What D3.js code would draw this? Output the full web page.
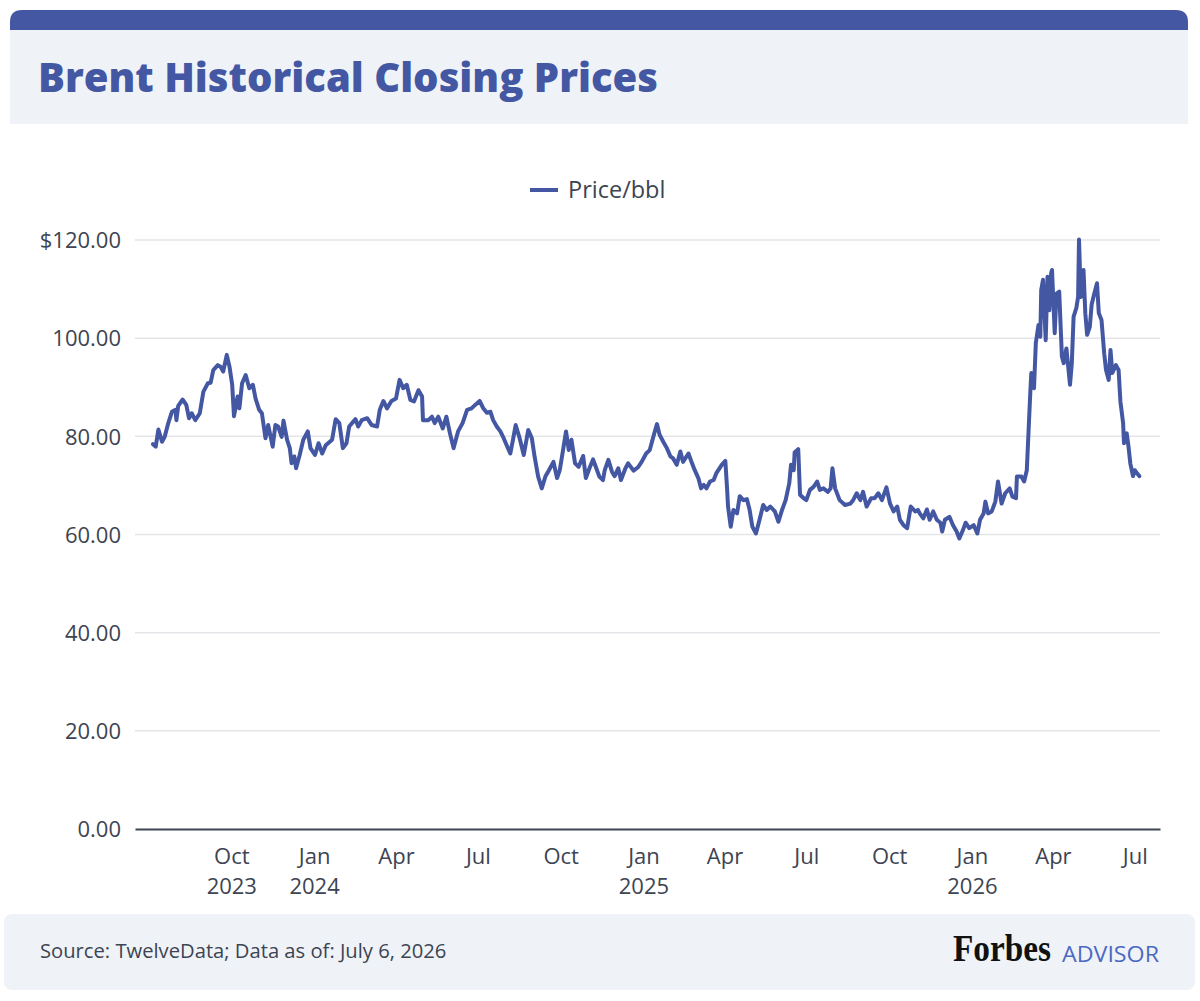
<!DOCTYPE html>
<html><head><meta charset="utf-8">
<script src="https://cdn.jsdelivr.net/npm/d3@7"></script>
<style>body{margin:0;background:#fff} svg{display:block}</style>
</head><body><svg id="c" width="1200" height="1001"></svg>
<script>
const titleText = "Brent Historical Closing Prices";
const seriesName = "Price/bbl";
const sourceText = "Source: TwelveData; Data as of: July 6, 2026";

const dates = [
"2023-07-06","2023-07-09","2023-07-12","2023-07-16","2023-07-19","2023-07-23","2023-07-27","2023-07-31","2023-08-01","2023-08-03",
"2023-08-08","2023-08-12","2023-08-15","2023-08-18","2023-08-22","2023-08-27","2023-08-31","2023-09-05","2023-09-08","2023-09-11",
"2023-09-16","2023-09-19","2023-09-22","2023-09-26","2023-09-29","2023-10-02","2023-10-04","2023-10-08","2023-10-10","2023-10-13",
"2023-10-17","2023-10-21","2023-10-25","2023-10-28","2023-11-01","2023-11-04","2023-11-08","2023-11-11","2023-11-16","2023-11-19",
"2023-11-22","2023-11-26","2023-11-28","2023-12-02","2023-12-05","2023-12-07","2023-12-10","2023-12-12","2023-12-16","2023-12-20",
"2023-12-25","2023-12-28",
"2024-01-02","2024-01-06","2024-01-10","2024-01-14","2024-01-21","2024-01-25","2024-01-29","2024-02-02","2024-02-06","2024-02-09",
"2024-02-16","2024-02-19","2024-02-23","2024-02-29","2024-03-05","2024-03-11","2024-03-14","2024-03-18","2024-03-22","2024-03-27",
"2024-04-01","2024-04-05","2024-04-09","2024-04-13","2024-04-17","2024-04-21","2024-04-26","2024-04-30","2024-05-01","2024-05-07",
"2024-05-11","2024-05-14","2024-05-18","2024-05-23","2024-05-27","2024-05-31","2024-06-04","2024-06-09","2024-06-14","2024-06-19",
"2024-06-24","2024-06-28","2024-07-03","2024-07-07","2024-07-11","2024-07-15","2024-07-18","2024-07-22","2024-07-26","2024-07-29",
"2024-08-02","2024-08-06","2024-08-09","2024-08-12","2024-08-16","2024-08-21","2024-08-26","2024-08-30","2024-09-02","2024-09-06",
"2024-09-10","2024-09-14","2024-09-18","2024-09-23","2024-09-27","2024-09-30","2024-10-04","2024-10-07","2024-10-10","2024-10-13",
"2024-10-17","2024-10-21","2024-10-26","2024-10-29","2024-11-02","2024-11-06","2024-11-09","2024-11-13","2024-11-17","2024-11-19",
"2024-11-23","2024-11-27","2024-11-30","2024-12-04","2024-12-07","2024-12-12","2024-12-15","2024-12-21","2024-12-26","2024-12-30",
"2025-01-04","2025-01-08","2025-01-12","2025-01-16","2025-01-19","2025-01-23","2025-01-27","2025-01-31","2025-02-03","2025-02-07",
"2025-02-11","2025-02-14","2025-02-20","2025-02-24","2025-02-27","2025-03-03","2025-03-06","2025-03-09","2025-03-12","2025-03-16",
"2025-03-20","2025-03-23","2025-03-29","2025-04-02","2025-04-04","2025-04-05","2025-04-08","2025-04-11","2025-04-15","2025-04-18",
"2025-04-22","2025-04-26","2025-04-29","2025-05-02","2025-05-06","2025-05-10","2025-05-14","2025-05-18","2025-05-22","2025-05-27",
"2025-05-31","2025-06-04","2025-06-08","2025-06-12","2025-06-14","2025-06-17","2025-06-18","2025-06-22","2025-06-24","2025-06-28",
"2025-07-01","2025-07-05","2025-07-09","2025-07-13","2025-07-16","2025-07-20","2025-07-25","2025-07-28","2025-07-30","2025-08-02",
"2025-08-07","2025-08-13","2025-08-19","2025-08-22","2025-08-26","2025-08-30","2025-09-02","2025-09-06","2025-09-11","2025-09-15",
"2025-09-19","2025-09-23","2025-09-28","2025-10-02","2025-10-06","2025-10-10","2025-10-13","2025-10-17","2025-10-21","2025-10-25",
"2025-10-30","2025-11-02","2025-11-04","2025-11-08","2025-11-12","2025-11-15","2025-11-19","2025-11-23","2025-11-27","2025-11-29",
"2025-12-02","2025-12-07","2025-12-11","2025-12-15","2025-12-18","2025-12-22","2025-12-25","2025-12-29",
"2026-01-03","2026-01-07","2026-01-10","2026-01-14","2026-01-16","2026-01-19","2026-01-23","2026-01-27","2026-01-30","2026-02-03",
"2026-02-07","2026-02-12","2026-02-15","2026-02-19","2026-02-20","2026-02-25","2026-02-28","2026-03-03","2026-03-05","2026-03-07",
"2026-03-08","2026-03-11","2026-03-13","2026-03-16","2026-03-18","2026-03-19","2026-03-21","2026-03-24","2026-03-26","2026-03-28",
"2026-03-30","2026-03-31","2026-04-03","2026-04-05","2026-04-08","2026-04-11","2026-04-13","2026-04-16","2026-04-20","2026-04-22",
"2026-04-24","2026-04-27","2026-04-29","2026-04-30","2026-05-02","2026-05-05","2026-05-07","2026-05-09","2026-05-12","2026-05-14",
"2026-05-17","2026-05-20","2026-05-22","2026-05-25","2026-05-28","2026-05-30","2026-06-02","2026-06-04","2026-06-06","2026-06-10",
"2026-06-13","2026-06-15","2026-06-18","2026-06-19","2026-06-22","2026-06-24","2026-06-26","2026-06-29","2026-07-01","2026-07-03",
"2026-07-06"
];

const prices = [
78.4,77.9,81.4,78.9,79.9,82.7,85.0,85.4,83.3,86.2,
87.5,86.4,83.7,84.7,83.3,84.7,89.1,90.8,90.9,93.5,
94.5,94.2,93.2,96.6,94.2,90.5,84.1,88.1,85.7,90.8,
92.5,89.8,90.5,87.7,85.4,84.7,79.6,82.3,77.9,82.3,
82.0,79.9,83.2,79.3,77.6,74.5,75.9,73.5,76.2,79.3,
81.0,77.6,
76.2,78.6,76.5,78.2,79.3,83.5,82.7,77.6,78.6,82.0,
83.5,82.0,83.3,83.7,82.3,82.0,85.4,87.2,85.7,87.2,
87.7,91.5,89.8,90.5,87.4,87.1,89.4,88.1,83.3,83.3,
84.0,82.7,84.0,81.6,84.0,80.6,77.6,81.0,82.7,85.4,
85.7,86.4,87.2,85.7,84.8,85.0,83.3,82.0,81.0,79.9,
78.2,76.5,79.3,82.3,79.9,76.2,81.3,79.6,75.9,71.8,
69.4,71.8,73.1,74.8,71.5,73.1,77.6,81.0,77.2,79.3,
74.5,73.8,76.0,71.5,73.5,75.3,73.8,71.8,71.1,73.1,
75.2,72.8,71.9,73.5,71.1,73.5,74.5,73.0,73.7,74.8,
76.5,77.2,79.9,82.5,80.3,78.9,77.6,75.9,75.5,74.2,
76.9,74.8,76.5,74.5,73.1,71.5,69.4,70.1,69.4,70.8,
71.1,72.5,74.2,75.0,69.1,65.7,61.6,65.0,64.3,67.8,
67.0,67.2,65.0,61.6,60.2,63.0,66.0,65.0,65.7,64.7,
62.6,65.0,67.0,70.4,74.2,73.1,76.7,77.4,68.1,67.4,
67.0,69.1,69.7,70.8,69.1,69.4,68.7,69.4,73.5,69.4,
67.0,66.0,66.3,67.0,68.4,67.0,68.7,65.7,67.4,67.4,
68.4,67.0,69.6,66.3,64.7,65.7,63.0,61.9,61.3,65.7,
64.7,65.0,64.3,63.3,65.1,63.0,64.7,63.0,62.4,60.6,
63.0,63.6,61.9,60.6,59.2,60.9,62.4,61.3,
61.9,60.2,63.0,64.3,66.7,64.3,64.7,66.7,70.8,66.3,
68.4,69.4,67.7,67.4,71.8,71.8,70.8,73.1,81.3,89.4,
92.9,89.8,99.0,102.7,100.3,109.8,111.9,99.6,112.5,105.7,
113.2,113.9,101.0,109.1,109.5,96.2,94.9,97.9,90.5,94.9,
104.4,106.1,108.4,120.1,108.4,113.9,105.1,100.7,102.3,106.8,
109.1,111.2,105.1,103.7,96.9,93.5,91.5,97.6,92.9,94.5,
93.5,87.1,82.7,78.6,80.6,77.9,74.5,71.9,73.1,72.6,
71.9
];

const yTicks = [0, 20, 40, 60, 80, 100, 120];
const xTickDates = ["2023-10-01","2024-01-01","2024-04-01","2024-07-01","2024-10-01","2025-01-01",
                    "2025-04-01","2025-07-01","2025-10-01","2026-01-01","2026-04-01","2026-07-01"];
const xTickMonths = ["Oct","Jan","Apr","Jul","Oct","Jan","Apr","Jul","Oct","Jan","Apr","Jul"];
const xTickYears = ["2023","2024","","","","2025","","","","2026","",""];
const xDomain = ["2023-06-16","2026-07-29"];

const FONT = "'Open Sans', sans-serif";
const BLUE = "#4457a3";
const TXT = "#3d4452";
const parse = d3.utcParse("%Y-%m-%d");
const data = dates.map((d, i) => ({date: parse(d), value: prices[i]}));

const svg = d3.select("#c");

// header
const hdr = svg.append("g");
hdr.append("path")
  .attr("d", "M10,30 L10,22 Q10,10 22,10 L1176,10 Q1188,10 1188,22 L1188,30 Z")
  .attr("fill", BLUE);
hdr.append("rect").attr("x", 10).attr("y", 30).attr("width", 1178).attr("height", 94).attr("fill", "#eff3f8");
hdr.append("text").attr("x", 38).attr("y", 92)
  .attr("font-family", FONT).attr("font-weight", 800).attr("font-size", 40)
  .attr("textLength", 620).attr("lengthAdjust", "spacingAndGlyphs")
  .attr("fill", BLUE).text(titleText);

// scales
const x = d3.scaleUtc().domain(xDomain.map(parse)).range([135, 1160]);
const y = d3.scaleLinear().domain([0, 120]).range([829, 240]);

// y axis labels
const yAxis = d3.axisLeft(y).tickValues(yTicks).tickSize(0)
  .tickFormat(v => (v === 120 ? "$" : "") + d3.format(".2f")(v));
const gy = svg.append("g").attr("transform", "translate(121,0)").call(yAxis);
gy.select(".domain").remove();
gy.selectAll("text").attr("font-family", FONT).attr("font-size", 22).attr("fill", TXT).attr("x", 0).attr("dy", "0.35em");

// grid
svg.append("g").selectAll("line").data(yTicks.filter(v => v > 0)).join("line")
  .attr("x1", 135).attr("x2", 1160)
  .attr("y1", d => y(d)).attr("y2", d => y(d))
  .attr("stroke", "#e3e5e8").attr("stroke-width", 1.5);

// x axis
const xAxis = d3.axisBottom(x).tickValues(xTickDates.map(parse)).tickSize(0).tickFormat("");
const gx = svg.append("g").attr("transform", `translate(0,${y(0)})`).call(xAxis);
gx.select(".domain").attr("stroke", TXT).attr("stroke-width", 2);
gx.selectAll(".tick").each(function(d, i) {
  const t = d3.select(this).append("text")
    .attr("font-family", FONT).attr("font-size", 22).attr("fill", TXT)
    .attr("text-anchor", "middle");
  t.append("tspan").attr("x", 0).attr("y", 35).text(xTickMonths[i]);
  if (xTickYears[i]) t.append("tspan").attr("x", 0).attr("y", 65).text(xTickYears[i]);
});

// line
const line = d3.line().x(d => x(d.date)).y(d => y(d.value)).curve(d3.curveLinear);
svg.append("path").datum(data)
  .attr("fill", "none").attr("stroke", BLUE).attr("stroke-width", 4)
  .attr("stroke-linejoin", "round").attr("stroke-linecap", "round")
  .attr("d", line);

// legend
const lg = svg.append("g");
lg.append("line").attr("x1", 530).attr("x2", 558).attr("y1", 190).attr("y2", 190)
  .attr("stroke", BLUE).attr("stroke-width", 4);
lg.append("text").attr("x", 568).attr("y", 198)
  .attr("font-family", FONT).attr("font-size", 23.5).attr("fill", TXT).text(seriesName);

// footer
const ft = svg.append("g");
ft.append("rect").attr("x", 4).attr("y", 914).attr("width", 1191).attr("height", 76).attr("rx", 8)
  .attr("fill", "#eff3f8");
ft.append("text").attr("x", 40).attr("y", 958)
  .attr("font-family", FONT).attr("font-size", 20.2).attr("fill", TXT).text(sourceText);
ft.append("text").attr("x", 953).attr("y", 961)
  .attr("font-family", "'Liberation Serif', serif").attr("font-weight", 700).attr("font-size", 37)
  .attr("textLength", 98).attr("lengthAdjust", "spacingAndGlyphs")
  .attr("fill", "#111").text("Forbes");
ft.append("text").attr("x", 1062).attr("y", 962)
  .attr("font-family", FONT).attr("font-size", 22).attr("fill", "#4b68c2")
  .attr("textLength", 97).attr("lengthAdjust", "spacingAndGlyphs").text("ADVISOR");
</script></body></html>
